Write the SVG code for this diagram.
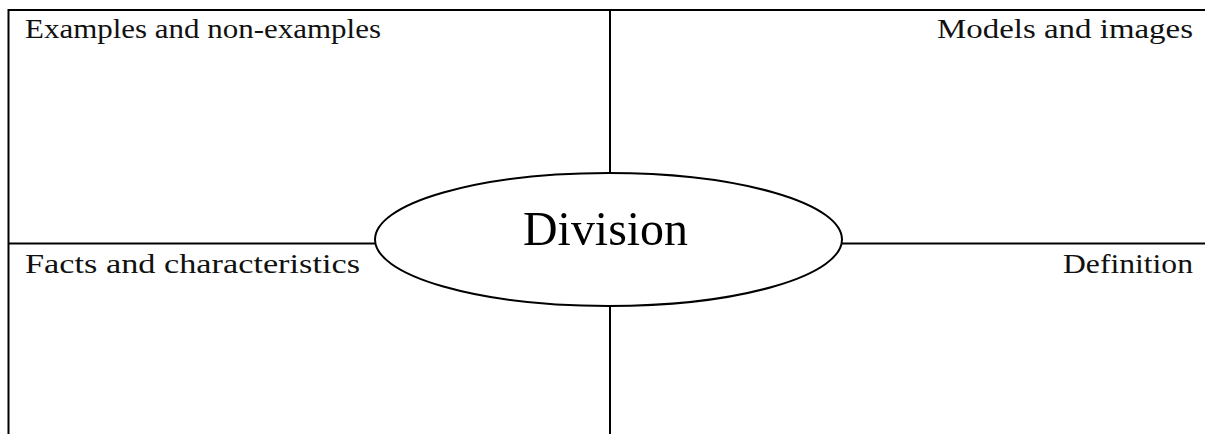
<svg xmlns="http://www.w3.org/2000/svg" width="1205" height="434" viewBox="0 0 1205 434">
<style>
.ln{stroke:#000;stroke-width:2;fill:none}
.lbl{font-family:"Liberation Serif","DejaVu Serif",serif;font-size:27px;fill:#111}
.ttl{font-family:"Liberation Serif","DejaVu Serif",serif;font-size:49px;fill:#000}
</style>
<rect width="1205" height="434" fill="#fff"/>
<g id="connectors">
<path class="ln" d="M8.5,434 V10 H1205"/>
<path class="ln" d="M610,10 V173"/>
<path class="ln" d="M610,306 V434"/>
<path class="ln" d="M8.5,243.5 H375"/>
<path class="ln" d="M842,243.5 H1205"/>
</g>
<g id="examples"><text class="lbl" x="25" y="38" textLength="356" lengthAdjust="spacingAndGlyphs">Examples and non-examples</text></g>
<g id="models"><text class="lbl" x="1193" y="38" text-anchor="end" textLength="256" lengthAdjust="spacingAndGlyphs">Models and images</text></g>
<g id="facts"><text class="lbl" x="25" y="273" textLength="335" lengthAdjust="spacingAndGlyphs">Facts and characteristics</text></g>
<g id="definition"><text class="lbl" x="1193" y="273" text-anchor="end" textLength="130" lengthAdjust="spacingAndGlyphs">Definition</text></g>
<g id="division">
<ellipse class="ln" cx="608.5" cy="239.5" rx="233.5" ry="66.5" fill="#fff"/>
<text class="ttl" x="523" y="245" textLength="165" lengthAdjust="spacingAndGlyphs">Division</text>
</g>
</svg>
